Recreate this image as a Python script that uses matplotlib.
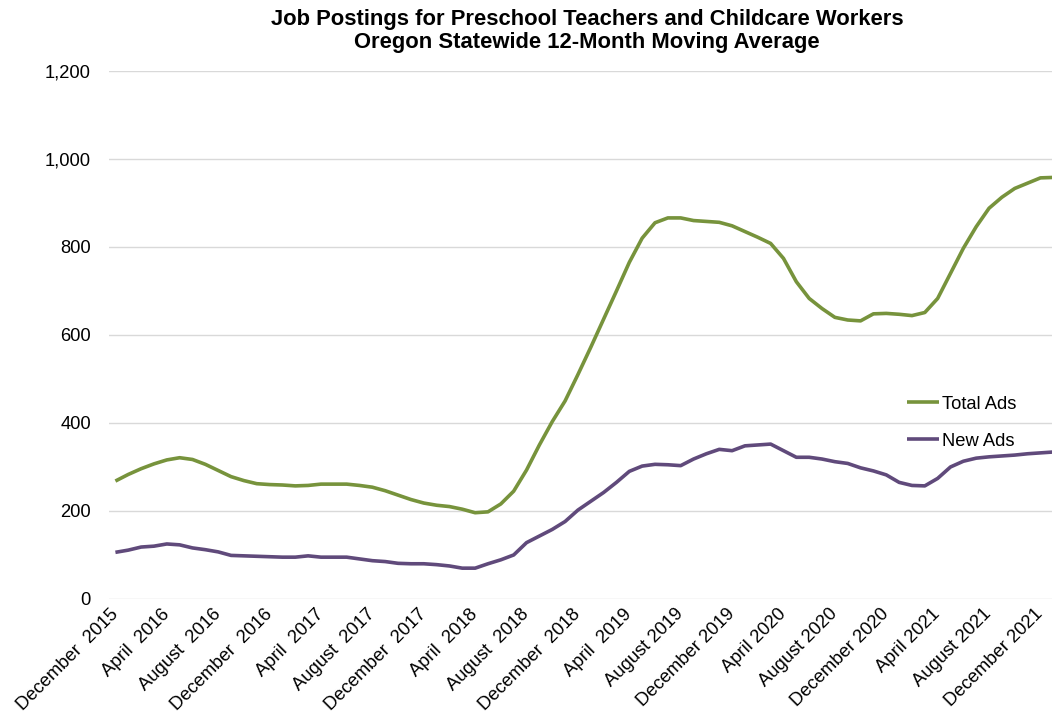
import matplotlib.pyplot as plt
import numpy as np

plt.rcParams['font.family'] = ['Liberation Sans', 'DejaVu Sans']

# monthly 12-month moving averages, Dec 2015 .. Jan 2022
total_ads = [268, 283, 296, 307, 316, 321, 317, 306, 292, 278,
             269, 262, 260, 259, 257, 258, 261, 261, 261, 258,
             254, 246, 236, 226, 218, 213, 210, 204, 196, 198,
             216, 245, 293, 350, 403, 450, 510, 572, 636, 700,
             765, 820, 855, 866, 866, 860, 858, 856, 848, 835,
             822, 808, 774, 721, 683, 660, 640, 634, 632, 648,
             649, 647, 644, 651, 683, 740, 797, 846, 888, 913,
             933, 945, 957, 958]
new_ads = [106, 111, 118, 120, 125, 123, 116, 112, 107, 99,
           98, 97, 96, 95, 95, 98, 95, 95, 95, 91,
           87, 85, 81, 80, 80, 78, 75, 70, 70, 80,
           89, 100, 128, 143, 158, 176, 202, 222, 242, 265,
           290, 302, 306, 305, 303, 318, 330, 340, 337, 348,
           350, 352, 337, 322, 322, 318, 312, 308, 298, 291,
           282, 265, 258, 257, 274, 300, 313, 320, 323, 325,
           327, 330, 332, 334]

tick_labels = ['December  2015', 'April  2016', 'August  2016', 'December  2016',
               'April  2017', 'August  2017', 'December  2017', 'April  2018',
               'August  2018', 'December  2018', 'April  2019', 'August 2019',
               'December 2019', 'April 2020', 'August 2020', 'December 2020',
               'April 2021', 'August 2021', 'December 2021']

green = '#77933C'
purple = '#604A7B'

fig = plt.figure(figsize=(10.52, 7.24), dpi=100)
ax = fig.add_axes([0.1036, 0.1727, 0.8964, 0.7293])

x = np.arange(len(total_ads))
ax.plot(x, total_ads, color=green, lw=2.6, label='Total Ads', solid_capstyle='butt')
ax.plot(x, new_ads, color=purple, lw=2.6, label='New Ads', solid_capstyle='butt')

ax.set_xlim(-0.5, 72.9)
ax.set_ylim(0, 1200)
ax.set_yticks(range(0, 1201, 200))
ax.set_yticklabels(['{:,}'.format(v) for v in range(0, 1201, 200)])
ax.set_xticks(np.arange(0, 73, 4))
ax.set_xticklabels(tick_labels, rotation=45, ha='right', va='center',
                   rotation_mode='anchor')

ax.grid(axis='y', color='#d9d9d9', lw=1)
ax.set_axisbelow(True)
for s in ax.spines.values():
    s.set_visible(False)
ax.tick_params(axis='both', length=0, labelsize=13.2, colors='black')
ax.tick_params(axis='y', pad=13)
ax.tick_params(axis='x', pad=9)

fig.text(0.558, 0.988, 'Job Postings for Preschool Teachers and Childcare Workers\n'
         'Oregon Statewide 12-Month Moving Average',
         ha='center', va='top', fontsize=15.8, fontweight='bold', linespacing=1.12)

ax.legend(loc='center left', bbox_to_anchor=(0.862, 0.416), bbox_transform=fig.transFigure,
          frameon=False, fontsize=13.2, handlelength=1.75, handletextpad=0.15,
          labelspacing=1.1, borderaxespad=0, borderpad=0)

fig.savefig('out.png', dpi=100)
